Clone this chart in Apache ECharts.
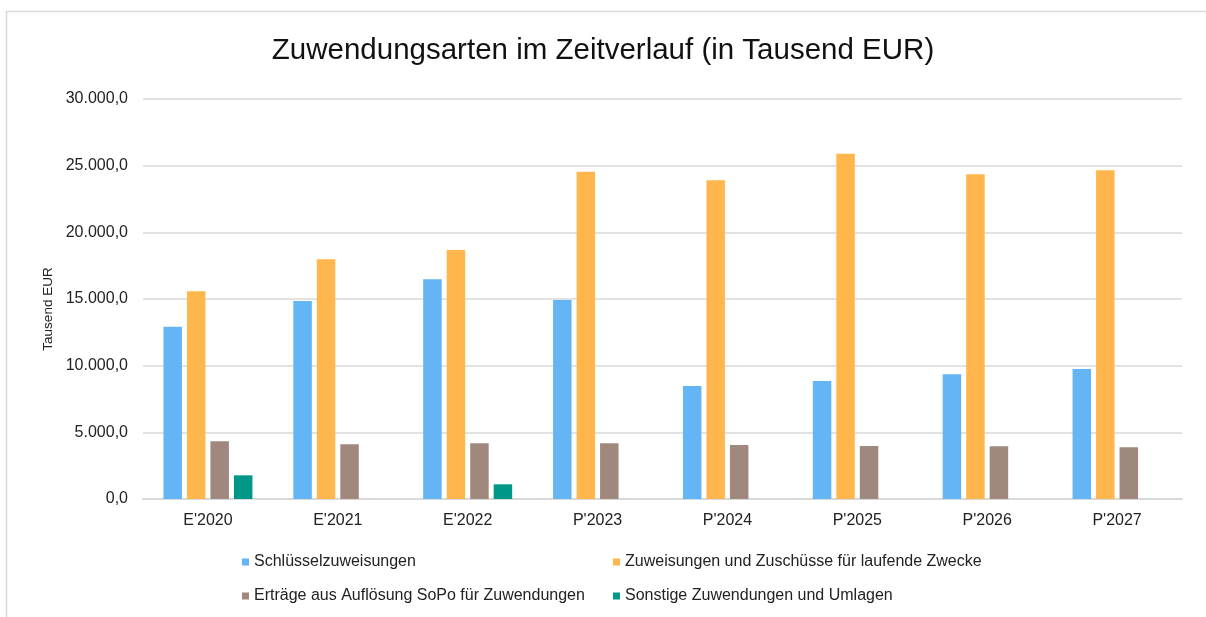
<!DOCTYPE html>
<html>
<head>
<meta charset="utf-8">
<script src="https://cdn.jsdelivr.net/npm/echarts@6/dist/echarts.min.js"></script>
<style>
html,body{margin:0;padding:0;background:#fff;}
#chart{width:1206px;height:617px;}
</style>
</head>
<body>
<div id="chart"></div>
<script>
const categories = ["E'2020", "E'2021", "E'2022", "P'2023", "P'2024", "P'2025", "P'2026", "P'2027"];
const seriesNames = [
  "Schlüsselzuweisungen",
  "Zuweisungen und Zuschüsse für laufende Zwecke",
  "Erträge aus Auflösung SoPo für Zuwendungen",
  "Sonstige Zuwendungen und Umlagen"
];
const schluessel = [12925, 14850, 16475, 14925, 8475, 8850, 9350, 9750];
const zuweisungen = [15575, 17975, 18675, 24550, 23900, 25900, 24350, 24650];
const ertraege = [4325, 4100, 4175, 4175, 4050, 3975, 3950, 3875];
const sonstige = [1775, 0, 1100, 0, 0, 0, 0, 0];
const yTicks = { min: 0, max: 30000, interval: 5000 };

const colors = ['#64B5F6', '#FFB74D', '#A1887F', '#009688'];
const font = '"Liberation Sans", Arial, sans-serif';

function fmt(v) {
  const s = Math.round(v).toString().replace(/\B(?=(\d{3})+(?!\d))/g, '.');
  return s + ',0';
}

const chart = echarts.init(document.getElementById('chart'), null, { renderer: 'canvas' });
const values = [schluessel, zuweisungen, ertraege, sonstige];

chart.setOption({
  animation: false,
  backgroundColor: '#fff',
  color: colors,
  textStyle: { fontFamily: font },
  graphic: [{
    type: 'rect',
    shape: { x: 6.5, y: 11.5, width: 1400, height: 800 },
    style: { fill: 'none', stroke: '#d9d9d9', lineWidth: 1.5 },
    silent: true, z: -1
  }],
  title: {
    text: 'Zuwendungsarten im Zeitverlauf (in Tausend EUR)',
    left: 'center',
    top: 31,
    textStyle: { fontFamily: font, fontSize: 29.5, fontWeight: 'normal', color: '#111' }
  },
  legend: [
    {
      data: [seriesNames[0], seriesNames[2]],
      orient: 'vertical',
      left: 242, top: 554, padding: 0,
      itemWidth: 7, itemHeight: 7, itemGap: 18,
      icon: 'rect',
      textStyle: { fontFamily: font, fontSize: 16, color: '#222', lineHeight: 16 }
    },
    {
      data: [seriesNames[1], seriesNames[3]],
      orient: 'vertical',
      left: 613, top: 554, padding: 0,
      itemWidth: 7, itemHeight: 7, itemGap: 18,
      icon: 'rect',
      textStyle: { fontFamily: font, fontSize: 16, color: '#222', lineHeight: 16 }
    }
  ],
  grid: { left: 143, right: 24, top: 99, bottom: 118, containLabel: false },
  xAxis: {
    type: 'category',
    data: categories,
    axisTick: { show: false },
    axisLine: { lineStyle: { color: '#d9d9d9', width: 2 } },
    axisLabel: { fontFamily: font, fontSize: 16, color: '#222', margin: 14 }
  },
  yAxis: {
    type: 'value',
    min: yTicks.min, max: yTicks.max, interval: yTicks.interval,
    name: 'Tausend EUR',
    nameLocation: 'middle',
    nameGap: 84,
    nameTextStyle: { fontFamily: font, fontSize: 13.5, color: '#222', padding: [0, 20, 0, 0] },
    axisLine: { show: false },
    axisTick: { show: false },
    splitLine: { lineStyle: { color: '#d9d9d9', width: 1.5 } },
    axisLabel: { fontFamily: font, fontSize: 16, color: '#222', margin: 15, formatter: fmt }
  },
  series: seriesNames.map((n, i) => ({
    name: n,
    type: 'bar',
    data: values[i],
    barWidth: 18.5,
    barGap: '27%',
    itemStyle: { color: colors[i] }
  }))
});
</script>
</body>
</html>
